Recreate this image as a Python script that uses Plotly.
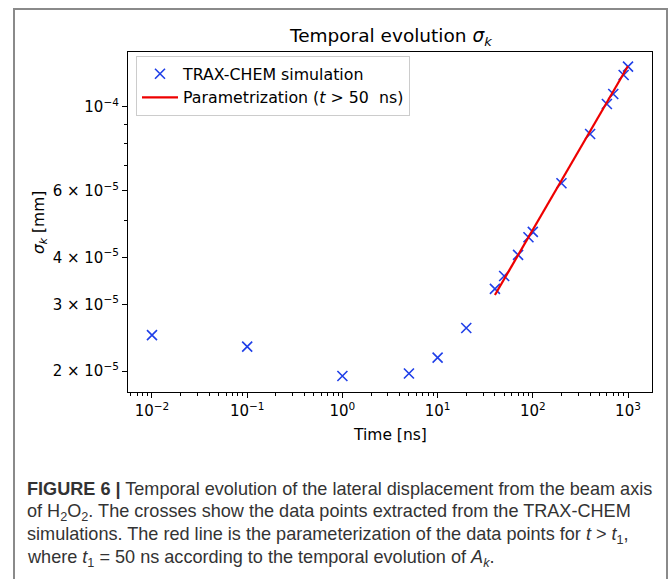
import numpy as np
import plotly.graph_objects as go

# ---- data ----
time_ns = [0.01, 0.1, 1, 5, 10, 20, 40, 50, 70, 90, 100, 200, 400, 600, 700, 900, 1000]
sigma_mm = [2.49e-5, 2.32e-5, 1.94e-5, 1.97e-5, 2.17e-5, 2.60e-5, 3.30e-5, 3.57e-5,
            4.06e-5, 4.52e-5, 4.67e-5, 6.28e-5, 8.48e-5, 1.018e-4, 1.082e-4, 1.215e-4, 1.279e-4]
fit_t = [40, 1000]
fit_sigma = [3.18e-5, 1.284e-4]

x_tickvals = [0.01, 0.1, 1, 10, 100, 1000]
x_ticktext = ["10<sup>−2</sup>", "10<sup>−1</sup>", "10<sup>0</sup>", "10<sup>1</sup>",
              "10<sup>2</sup>", "10<sup>3</sup>"]
y_tickvals = [2e-5, 3e-5, 4e-5, 6e-5, 1e-4]
y_ticktext = ["2 × 10<sup>−5</sup>", "3 × 10<sup>−5</sup>", "4 × 10<sup>−5</sup>",
              "6 × 10<sup>−5</sup>", "10<sup>−4</sup>"]
y_minor = [5e-5, 7e-5, 8e-5, 9e-5]
x_minor = [m * 10.0 ** e for e in range(-3, 3) for m in range(2, 10)]
x_minor = [v for v in x_minor if 0.0056 < v < 1780]

caption_lines = [
    "<b>FIGURE 6 |</b> Temporal evolution of the lateral displacement from the beam axis",
    "of H<sub>2</sub>O<sub>2</sub>. The crosses show the data points extracted from the TRAX-CHEM",
    "simulations. The red line is the parameterization of the data points for <i>t</i> > <i>t</i><sub>1</sub>,",
    "where <i>t</i><sub>1</sub> = 50 ns according to the temporal evolution of <i>A<sub>k</sub></i>.",
]

W, H = 670, 579
L, R, T, B = 128, 652, 52, 392
pw, ph = R - L, B - T


def px(x):
    return (x - L) / pw


def py(y):
    return (B - y) / ph


FONT = "DejaVu Sans"

fig = go.Figure()
fig.add_trace(go.Scatter(
    x=time_ns, y=sigma_mm, mode="markers", name="TRAX-CHEM simulation",
    marker=dict(symbol="x-thin", size=10, color="#1f3fe8",
                line=dict(color="#1f3fe8", width=1.6)),
))
fig.add_trace(go.Scatter(
    x=fit_t, y=fit_sigma, mode="lines", name="Parametrization (<i>t</i> > 50  ns)",
    line=dict(color="#ee0000", width=2.2),
))

axis_common = dict(
    showline=True, linecolor="black", linewidth=1.2, mirror=True,
    ticks="outside", ticklen=5, tickwidth=1, tickcolor="black",
    showgrid=False, zeroline=False,
    tickfont=dict(family=FONT, size=15, color="black"),
)

fig.update_xaxes(type="log", range=[np.log10(0.01) - 0.252, np.log10(1000) + 0.252],
                 tickmode="array", tickvals=x_tickvals, ticktext=x_ticktext,
                 minor=dict(tickmode="array", tickvals=x_minor, ticklen=3,
                            tickcolor="black", ticks="outside", showgrid=False),
                 **axis_common)
fig.update_yaxes(type="log", range=[np.log10(1.76e-5), np.log10(1.398e-4)],
                 tickmode="array", tickvals=y_tickvals, ticktext=y_ticktext,
                 minor=dict(tickmode="array", tickvals=y_minor, ticklen=3,
                            tickcolor="black", ticks="outside", showgrid=False),
                 **axis_common)

annotations = [
    dict(text="Temporal evolution <i>σ<sub>k</sub></i>", x=0.5, y=py(37),
         xref="paper", yref="paper", xanchor="center", yanchor="middle",
         showarrow=False, font=dict(family=FONT, size=18.5, color="black")),
    dict(text="Time [ns]", x=0.5, y=py(435), xref="paper", yref="paper",
         xanchor="center", yanchor="middle", showarrow=False,
         font=dict(family=FONT, size=15.5, color="black")),
    dict(text="<i>σ<sub>k</sub></i> [mm]", x=px(40), y=py(223), xref="paper", yref="paper",
         xanchor="center", yanchor="middle", textangle=-90, showarrow=False,
         font=dict(family=FONT, size=15.5, color="black")),
]
cap_y = [489, 512, 535, 558]
for line, yy in zip(caption_lines, cap_y):
    annotations.append(dict(
        text=line, x=px(25), y=py(yy), xref="paper", yref="paper",
        xanchor="left", yanchor="middle", showarrow=False, align="left",
        font=dict(family="Liberation Sans, Arial", size=18.1, color="#333333")))

fig.update_layout(
    width=W, height=H,
    margin=dict(l=L, r=W - R, t=T, b=H - B, pad=0),
    paper_bgcolor="white", plot_bgcolor="white",
    showlegend=True,
    legend=dict(x=px(136), y=py(56), xanchor="left", yanchor="top",
                bgcolor="rgba(255,255,255,0.85)", bordercolor="#cccccc", borderwidth=1,
                font=dict(family=FONT, size=15.8, color="black"),
                tracegroupgap=0, itemwidth=36),
    annotations=annotations,
    shapes=[dict(type="rect", xref="paper", yref="paper",
                 x0=px(14), x1=px(667), y0=py(620), y1=py(9),
                 line=dict(color="#8a8a8a", width=2), fillcolor="rgba(0,0,0,0)",
                 layer="below")],
)

fig.write_html("out.html")
